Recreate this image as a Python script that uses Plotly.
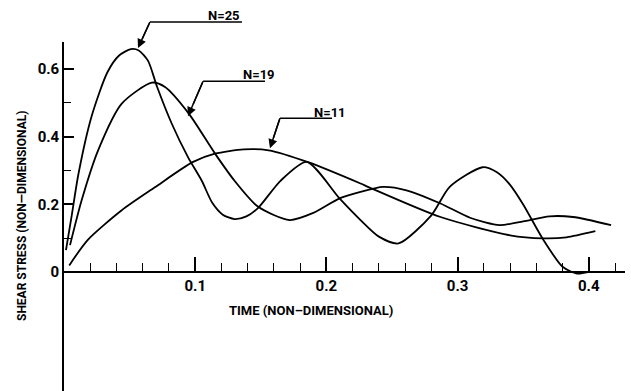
import plotly.graph_objects as go

# ---- data ----
t25 = [0.0015, 0.006, 0.011, 0.021, 0.033, 0.042, 0.051, 0.057, 0.064, 0.071, 0.082, 0.0945,
       0.105, 0.113, 0.121, 0.130, 0.139, 0.148, 0.165, 0.185, 0.21, 0.226, 0.24, 0.255, 0.28,
       0.294, 0.319, 0.33, 0.34, 0.35, 0.365, 0.38, 0.391, 0.40]
s25 = [0.065, 0.17, 0.29, 0.46, 0.59, 0.64, 0.659, 0.655, 0.625, 0.547, 0.44, 0.34,
       0.27, 0.205, 0.170, 0.157, 0.165, 0.19, 0.27, 0.326, 0.218, 0.154, 0.105, 0.085, 0.168,
       0.252, 0.31, 0.295, 0.258, 0.200, 0.098, 0.016, -0.004, 0.001]

t19 = [0.0046, 0.0135, 0.026, 0.044, 0.067, 0.077, 0.095, 0.115, 0.130, 0.148, 0.172, 0.19,
       0.210, 0.226, 0.243, 0.261, 0.287, 0.310, 0.332, 0.350, 0.370, 0.388, 0.417]
s19 = [0.08, 0.213, 0.36, 0.498, 0.560, 0.547, 0.469, 0.351, 0.27, 0.193, 0.154, 0.175,
       0.218, 0.237, 0.252, 0.242, 0.203, 0.16, 0.139, 0.15, 0.165, 0.163, 0.139]

t11 = [0.004, 0.018, 0.044, 0.069, 0.098, 0.115, 0.137, 0.156, 0.186, 0.226, 0.233, 0.287,
       0.34, 0.365, 0.383, 0.405]
s11 = [0.02, 0.095, 0.183, 0.25, 0.325, 0.35, 0.363, 0.36, 0.325, 0.262, 0.25, 0.163,
       0.109, 0.10, 0.103, 0.121]

x_ticks = [0.1, 0.2, 0.3, 0.4]
x_ticklabels = ["0.1", "0.2", "0.3", "0.4"]
y_ticks = [0, 0.2, 0.4, 0.6]
y_ticklabels = ["0", "0.2", "0.4", "0.6"]

labels = ["N=25", "N=19", "N=11"]

x_title = "TIME (NON\u2013DIMENSIONAL)"
y_title = "SHEAR STRESS (NON\u2014DIMENSIONAL)"

# ---- figure ----
XR = [0, 0.4276]
YR = [-0.351, 0.68]
FONT = "Roboto, Liberation Sans, sans-serif"


def py(v):
    """data y -> paper y (so labels above the plot area are not clipped)"""
    return (v - YR[0]) / (YR[1] - YR[0])


fig = go.Figure()
for t, s in [(t25, s25), (t19, s19), (t11, s11)]:
    fig.add_trace(go.Scatter(x=t, y=s, mode="lines",
                             line=dict(color="black", width=1.8, shape="spline", smoothing=0.7),
                             showlegend=False, hoverinfo="skip"))

# leader lines: (tip x, tip y, corner x, corner y, underline end x, label right x, label y)
leaders = [
    (0.0564, 0.662, 0.0655, 0.739, 0.1357, 0.1357, 0.757),
    (0.0945, 0.461, 0.106, 0.564, 0.1532, 0.1622, 0.585),
    (0.157, 0.366, 0.1646, 0.455, 0.2043, 0.2165, 0.473),
]
for lab, (tx, ty, cx, cy, ex, lx, ly) in zip(labels, leaders):
    fig.add_shape(type="line", x0=cx, y0=py(cy), x1=ex, y1=py(cy), xref="x", yref="paper",
                  line=dict(color="black", width=1.5))
    fig.add_shape(type="line", x0=cx, y0=py(cy), x1=tx + (cx - tx) * 0.35,
                  y1=py(ty + (cy - ty) * 0.35), xref="x", yref="paper",
                  line=dict(color="black", width=1.5))
    fig.add_annotation(x=tx, y=ty, ax=cx, ay=cy, axref="x", ayref="y", xref="x", yref="y",
                       text="", showarrow=True, arrowhead=2, arrowsize=1.2, arrowwidth=1.5,
                       arrowcolor="black")
    fig.add_annotation(x=lx, y=py(ly), xref="x", yref="paper", text=lab, showarrow=False,
                       xanchor="right", yanchor="middle",
                       font=dict(family=FONT, size=13, color="black", weight="bold"))

fig.add_annotation(x=0.440, y=0.232, xref="paper", yref="paper", text=x_title,
                   showarrow=False, xanchor="center", yanchor="middle",
                   font=dict(family=FONT, size=13, color="black", weight="bold"))
fig.add_annotation(x=-0.0749, y=0.5014, xref="paper", yref="paper", text=y_title,
                   showarrow=False, textangle=-90, xanchor="center", yanchor="middle",
                   font=dict(family=FONT, size=12, color="black", weight="bold"))

xpos = (0 - YR[0]) / (YR[1] - YR[0])
fig.update_xaxes(range=XR, anchor="free", position=xpos, showgrid=False, zeroline=False,
                 showline=True, linecolor="black", linewidth=1.6,
                 tickmode="array", tickvals=x_ticks, ticktext=x_ticklabels,
                 ticks="inside", ticklen=14, tickwidth=1.6, tickcolor="black",
                 minor=dict(tickmode="linear", tick0=0, dtick=0.02, ticks="inside",
                            ticklen=8, tickwidth=1.4, tickcolor="black", showgrid=False),
                 tickfont=dict(family=FONT, size=15, color="black", weight="bold"))
fig.update_yaxes(range=YR, showgrid=False, zeroline=False,
                 showline=True, linecolor="black", linewidth=1.6,
                 tickmode="array", tickvals=y_ticks, ticktext=y_ticklabels,
                 ticks="inside", ticklen=10, tickwidth=1.6, tickcolor="black",
                 minor=dict(tickmode="array", tickvals=[0.1, 0.3, 0.5], ticks="inside",
                            ticklen=7, tickwidth=1.4, tickcolor="black", showgrid=False),
                 tickfont=dict(family=FONT, size=15, color="black", weight="bold"))

fig.update_layout(width=631, height=391, margin=dict(l=64, r=6, t=42, b=0),
                  plot_bgcolor="white", paper_bgcolor="white")
fig.write_html("out.html")
